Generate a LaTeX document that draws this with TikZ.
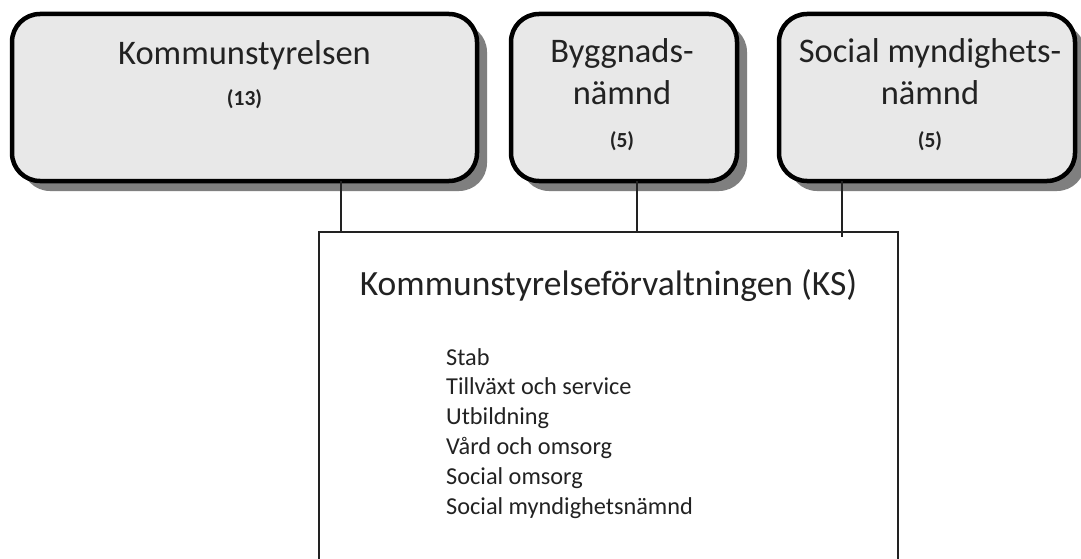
\documentclass[tikz,border=0pt]{standalone}
\usepackage{fontspec}
\setmainfont{Carlito}
\usetikzlibrary{shadows,calc}
\definecolor{boxfill}{HTML}{E8E8E8}
\definecolor{shadowgray}{HTML}{7F7F7F}
\definecolor{ink}{HTML}{222222}
\begin{document}
\begin{tikzpicture}[x=1pt,y=-1pt,
  board/.style={draw=black, line width=4.5pt, rounded corners=28pt, fill=boxfill,
    drop shadow={shadow xshift=10pt, shadow yshift=-10pt, fill=shadowgray, opacity=1},
    anchor=north west, inner sep=0pt, outer sep=0pt, minimum height=167pt},
  unitbox/.style={draw=ink, line width=1.3pt, fill=white, anchor=north west,
    inner sep=0pt, outer sep=0pt},
  bigtxt/.style={anchor=base, inner sep=0pt, text=ink, font=\fontsize{34.5}{42}\selectfont},
  titletxt/.style={anchor=base, inner sep=0pt, text=ink, font=\fontsize{35.5}{42}\selectfont},
  numtxt/.style={anchor=center, inner sep=0pt, text=ink, font=\fontsize{21.5}{24}\selectfont\bfseries},
  itemtxt/.style={anchor=base west, inner sep=0pt, text=ink, font=\fontsize{24.3}{30}\selectfont},
  conn/.style={draw=ink, line width=1.3pt}]
\useasboundingbox[fill=white] (0,0) rectangle (1081,559);

% lower box
\node[unitbox, minimum width=579pt, minimum height=360pt] (kf) at (319,232) {};

% top boxes
\node[board, minimum width=465pt] (b1) at (12,14) {};
\node[board, minimum width=226pt] (b2) at (511,14) {};
\node[board, minimum width=296pt] (b3) at (779,14) {};

% connectors
\draw[conn] ([xshift=329pt]b1.south west) -- ([xshift=329pt]b1.south west |- kf.north);
\draw[conn] ([xshift=126pt]b2.south west) -- ([xshift=126pt]b2.south west |- kf.north);
\draw[conn] ([xshift=63pt]b3.south west) -- ($([xshift=63pt]b3.south west |- kf.north)+(0,5)$);

% texts in top boxes
\node[bigtxt] (t1) at ($(b1.north)+(0,51)$) {Kommunstyrelsen};
\node[numtxt] (n1) at ($(b1.north)+(0,85)$) {(13)};

\node[bigtxt] (t2a) at ($(b2.north)+(-2,49)$) {Byggnads-};
\node[bigtxt] (t2b) at ($(b2.north)+(-2,91)$) {nämnd};
\node[numtxt] (n2) at ($(b2.north)+(-2,127)$) {(5)};

\node[bigtxt] (t3a) at ($(b3.north)+(3,49)$) {Social myndighets-};
\node[bigtxt] (t3b) at ($(b3.north)+(3,91)$) {nämnd};
\node[numtxt] (n3) at ($(b3.north)+(3,127)$) {(5)};

% lower box texts
\node[titletxt] (kft) at ($(kf.north)+(0,63)$) {Kommunstyrelseförvaltningen (KS)};
\foreach \txt [count=\i from 0] in {Stab, Tillväxt och service, Utbildning, Vård och omsorg, Social omsorg, Social myndighetsnämnd}
  \node[itemtxt] (item\i) at ($(kf.north west)+(127,133+29.8*\i)$) {\txt};
\end{tikzpicture}
\end{document}
